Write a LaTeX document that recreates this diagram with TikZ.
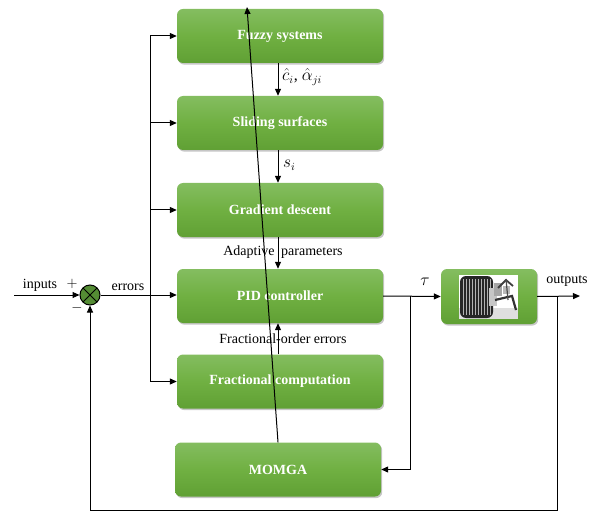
\documentclass[tikz,border=0pt]{standalone}
\usepackage{fontspec}
\setmainfont{Liberation Serif}
\usetikzlibrary{arrows.meta,shadows,calc}
\definecolor{gtop}{RGB}{132,189,96}
\definecolor{gmid}{RGB}{112,176,66}
\definecolor{gbot}{RGB}{96,160,52}
\definecolor{sumfill}{RGB}{84,140,52}
\tikzset{
  blockbox/.style={rounded corners=6pt, top color=gtop, bottom color=gbot, middle color=gmid,
    draw=none, minimum width=206pt, minimum height=54pt, text=white,
    font=\bfseries\fontsize{14}{16}\selectfont,
    drop shadow={opacity=0.45, shadow xshift=1.2pt, shadow yshift=-1.6pt}},
  conn/.style={draw=black, line width=1pt, -{Triangle[length=7pt,width=6pt]}},
  plain/.style={draw=black, line width=1pt},
  lbl/.style={font=\fontsize{14}{16}\selectfont, inner sep=1pt},
  mlbl/.style={font=\fontsize{16}{18}\selectfont, inner sep=1pt},
}
\begin{document}
\begin{tikzpicture}[x=1pt,y=-1pt]
\useasboundingbox (0,0) rectangle (594,513);
% blocks
\node[blockbox] (fuzzy) at (280,36) {Fuzzy systems};
\node[blockbox] (slide) at (280,123) {Sliding surfaces};
\node[blockbox] (grad) at (280,210) {Gradient descent};
\node[blockbox] (pid) at (280,296) {PID controller};
\node[blockbox] (frac) at (280,381.5) {Fractional computation};
\node[blockbox] (momga) at (278,469.5) {MOMGA};
\node[blockbox, minimum width=96pt, minimum height=55pt] (plant) at (489,296.5) {};
% plant picture
\begin{scope}
  \fill[white] (459,275) rectangle (518,319);
  \fill[gray!25] (459,308) rectangle (518,319);
  \fill[black!85, rounded corners=6pt] (460,276) rectangle (493,318);
  \foreach \xx in {463,466,...,490} {\draw[gray!60, line width=0.5pt] (\xx,279) -- (\xx,315);}
  \fill[gray!45] (489,288) rectangle (497,306);
  \fill[gray!70] (494,283) rectangle (502,296);
  \draw[black!80, line width=2.2pt] (495,300) -- (512,296) -- (516,310);
  \draw[black!75, line width=1.8pt] (498,288) -- (506,280) -- (513,286);
  \fill[gray!55] (503,286) rectangle (510,294);
  \draw[black!70, line width=1.2pt] (506,279) -- (508,300);
\end{scope}
% summing junction
\node[circle, draw=black, line width=1pt, fill=sumfill, minimum size=20pt, inner sep=0pt] (sum) at (90,295) {};
\draw[black, line width=1pt] ($(sum.center)+(-7,-7)$) -- ($(sum.center)+(7,7)$);
\draw[black, line width=1pt] ($(sum.center)+(-7,7)$) -- ($(sum.center)+(7,-7)$);
% coordinates
\coordinate (in) at (14,295);
\coordinate (bustop) at (150,36);
\coordinate (busbot) at (150,381.5);
\coordinate (tau) at (410,296);
\coordinate (outbr) at (557,296);
\coordinate (out) at (580,296);
\coordinate (fbr) at (557,510);
\coordinate (fbl) at (90,510);
\coordinate (mtop) at (247,7);
% input and error
\draw[conn] (in) -- (sum.west);
\node[lbl] at (40,285) {inputs};
\node[lbl] at (72,284) {$+$};
\node[lbl] at (77,308) {$-$};
\draw[conn] (sum.east) -- (sum.east -| pid.west);
\node[lbl] at (128,287) {errors};
% bus
\draw[plain] (bustop) -- (busbot);
\draw[conn] (bustop) -- (fuzzy.west);
\draw[conn] (bustop |- slide.west) -- (slide.west);
\draw[conn] (bustop |- grad.west) -- (grad.west);
\draw[conn] (busbot) -- (frac.west);
% vertical chain
\draw[conn] ($(fuzzy.south)+(-2,0)$) -- ($(slide.north)+(-2,0)$);
\node[mlbl, anchor=west] at (281,77) {$\hat{c}_i$, $\hat{\alpha}_{ji}$};
\draw[conn] ($(slide.south)+(-2,0)$) -- ($(grad.north)+(-2,0)$);
\node[mlbl, anchor=west] at (282,165) {$s_i$};
\draw[conn] ($(grad.south)+(-2,0)$) -- ($(pid.north)+(-2,0)$);
\node[lbl] at (283,252) {Adaptive\hspace{3pt} parameters};
\draw[conn] ($(frac.north)+(-2,0)$) -- ($(pid.south)+(-2,0)$);
\node[lbl] at (283,339) {Fractional-order errors};
% MOMGA long arrow
\draw[conn] (momga.north) -- (mtop);
% plant connections
\draw[conn] (pid.east) -- (plant.west);
\node[mlbl] at (425,282) {$\tau$};
\draw[conn] (tau) |- (momga.east);
\draw[conn] (plant.east) -- (out);
\node[lbl] at (567,281) {outputs};
\draw[plain] (outbr) -- (fbr) -- (fbl);
\draw[conn] (fbl) -- (sum.south);
\end{tikzpicture}
\end{document}
